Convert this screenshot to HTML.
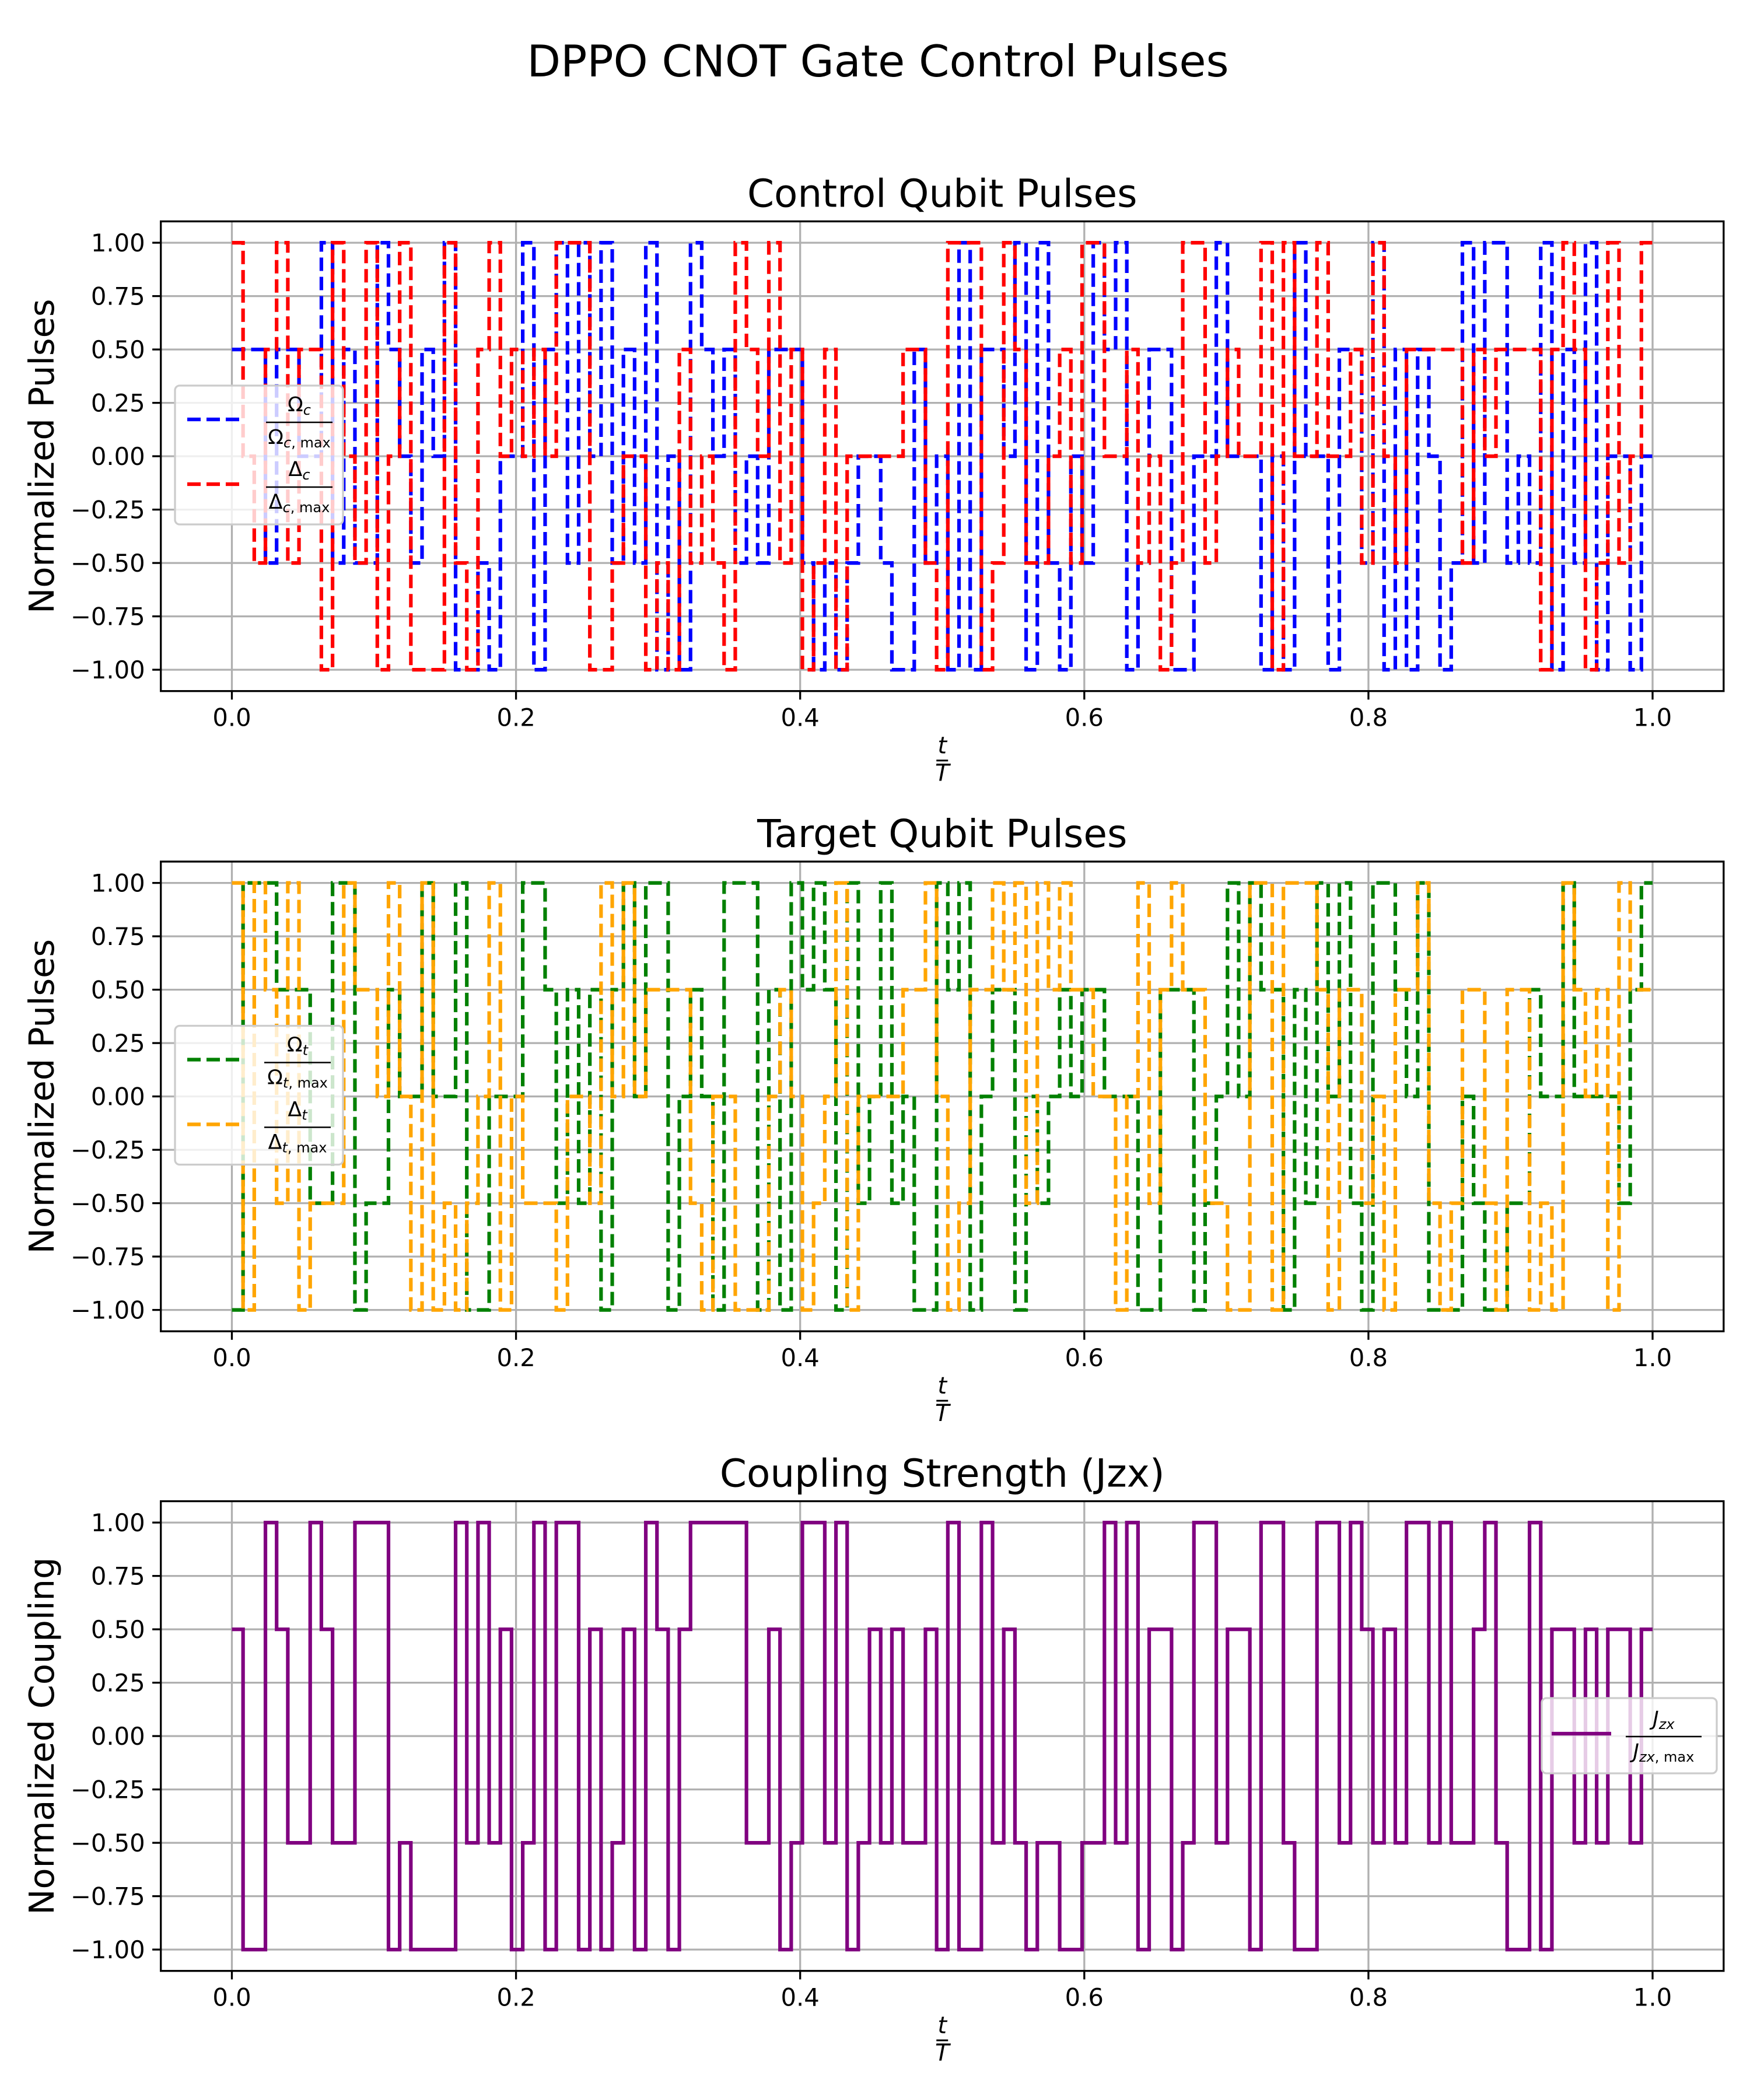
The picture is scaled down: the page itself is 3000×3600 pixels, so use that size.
<!DOCTYPE html>
<html>
<head>
<meta charset="utf-8">
<style>
  html, body { margin: 0; padding: 0; background: #ffffff; }
  svg { display: block; }
  text { font-family: "DejaVu Sans", "Liberation Sans", sans-serif; fill: #000; }
</style>
</head>
<body>
<svg id="fig" xmlns="http://www.w3.org/2000/svg" width="3000" height="3600" viewBox="0 0 3000 3600">
  <rect x="0" y="0" width="3000" height="3600" fill="#ffffff"/>
  <text x="1505" y="131" font-size="75" text-anchor="middle">DPPO CNOT Gate Control Pulses</text>
  <g id="panels"></g>
</svg>
<script>
// ---- data (127 piecewise-constant steps over t in [0,1]) ----
const omegaC = [0.5,0.5,0.5,-0.5,0.5,0.5,0,0,1,-0.5,0.5,-0.5,-0.5,1,0.5,0,-0.5,0.5,0,1,-1,-1,-0.5,-1,0,0,1,-1,0.5,1,-0.5,1,0,1,-0.5,0.5,-0.5,1,-1,0,-1,1,0.5,
0,0.5,-0.5,0,-0.5,0.5,0.5,0.5,-0.5,-1,-0.5,-1,-0.5,0,0,-0.5,-1,-1,0.5,-0.5,0,-1,1,-1,0.5,0.5,0,1,-1,1,-0.5,-1,0,-0.5,1,0.5,1,-1,-0.5,0.5,0.5,-1,-1,
0,0,1,0,0,0,-1,0,-1,1,0,0,-1,0.5,0.5,-0.5,1,-1,0.5,-1,0.5,0,-1,-0.5,1,-0.5,1,1,-0.5,0,-0.5,1,-1,0.5,-0.5,1,-1,0,0,-1,0];
const deltaC = [1,0,-0.5,0.5,1,-0.5,0.5,0.5,-1,1,0,-0.5,1,-1,0,1,-1,-1,-1,1,-0.5,-1,0.5,1,0,0.5,0,0.5,0,1,1,1,-1,-1,-0.5,0,0,-1,-0.5,-1,0.5,-0.5,0,
-0.5,-1,1,0.5,0,1,-0.5,0.5,-1,-0.5,0.5,-1,0,0,0,0,0,0.5,0.5,-0.5,-1,1,1,1,-1,-0.5,1,0.5,-0.5,-0.5,0,0.5,-0.5,1,1,0,0,0.5,-0.5,0,-1,-0.5,1,
1,-0.5,0,0.5,0,0,1,-1,1,0,0,1,0,0,0.5,-0.5,1,0,-0.5,0.5,0.5,0.5,0.5,0.5,-0.5,0.5,0,0.5,0.5,0.5,0.5,-1,0.5,1,0.5,-1,-0.5,1,-0.5,0,1];
const omegaT = [-1,1,1,1,0.5,0.5,0.5,-0.5,-0.5,1,1,-1,-0.5,-0.5,0.5,0,0,1,0,0,1,-1,-1,0,0,0,1,1,0.5,-0.5,0.5,-0.5,0.5,-1,0.5,1,0,1,1,-1,0,0.5,0,
-1,1,1,1,-1,0.5,-1,1,0.5,1,0.5,-1,1,-0.5,0,1,-0.5,0,-1,-1,1,0.5,1,-1,0,0.5,0.5,-1,0,-0.5,0,0.5,0,0.5,0.5,0,0,0,-1,-1,0.5,0.5,
0.5,-1,-0.5,0,1,0,1,0.5,0.5,-1,0.5,-0.5,1,0,1,-0.5,-1,1,1,0.5,0,1,-1,-1,-1,0,-0.5,-1,-1,-0.5,-0.5,0.5,0,0,1,0,0,0,0,-0.5,0.5,1];
const deltaT = [1,-1,1,0.5,-0.5,1,-1,-0.5,-0.5,-0.5,1,0.5,0.5,0,1,0,-1,1,-1,-0.5,-1,-0.5,0,1,-1,0,-0.5,-0.5,-0.5,-1,0,0,-0.5,1,0,1,0,0.5,0.5,0.5,0.5,-0.5,-1,
0,0,-1,-1,-1,0,0.5,0,-1,-0.5,0,1,-1,0,0,0,0,0.5,0.5,1,0,-1,-0.5,0.5,0.5,1,0.5,1,-0.5,1,0.5,1,0.5,0.5,0,0,-1,0,1,-0.5,0.5,1,
0.5,0.5,-0.5,-0.5,-1,-1,1,1,-1,1,1,1,0.5,-1,0.5,0.5,-0.5,0,-1,0.5,0.5,1,-0.5,-1,-0.5,0.5,0.5,-0.5,-1,0.5,0.5,-1,-0.5,-1,1,0.5,0,0.5,-1,1,0.5,0.5];
const jzx = [0.5,-1,-1,1,0.5,-0.5,-0.5,1,0.5,-0.5,-0.5,1,1,1,-1,-0.5,-1,-1,-1,-1,1,-0.5,1,-0.5,0.5,-1,-0.5,1,-1,1,1,-1,0.5,-1,-0.5,0.5,-1,1,0.5,-1,0.5,1,1,1,1,1,
-0.5,-0.5,0.5,-1,-0.5,1,1,-0.5,1,-1,-0.5,0.5,-0.5,0.5,-0.5,-0.5,0.5,-1,1,-1,-1,1,-0.5,0.5,-0.5,-1,-0.5,-0.5,-1,-1,-0.5,-0.5,1,-0.5,1,-1,0.5,0.5,-1,-0.5,
1,1,-0.5,0.5,0.5,-1,1,1,-0.5,-1,-1,1,1,-0.5,1,0.5,-0.5,0.5,-0.5,1,1,-0.5,1,-0.5,-0.5,0.5,1,-0.5,-1,-1,1,-1,0.5,0.5,-0.5,0.5,-0.5,0.5,0.5,-0.5,0.5];
const xTicks = [0.0, 0.2, 0.4, 0.6, 0.8, 1.0];
const xTickLabels = ["0.0","0.2","0.4","0.6","0.8","1.0"];
const yTicks = [-1.0,-0.75,-0.5,-0.25,0.0,0.25,0.5,0.75,1.0];
const yTickLabels = ["\u22121.00","\u22120.75","\u22120.50","\u22120.25","0.00","0.25","0.50","0.75","1.00"];
const panelTitles = ["Control Qubit Pulses","Target Qubit Pulses","Coupling Strength (Jzx)"];
const panelYLabels = ["Normalized Pulses","Normalized Pulses","Normalized Coupling"];

// ---- layout ----
const NS = "http://www.w3.org/2000/svg";
const AX_L = 275.7, AX_R = 2954.8;
const X0 = 397.5, XSPAN = 2435.5;
const TOPS = [379.5, 1477, 2573.5];
const UNIT = 366;
const AX_H = 2.2 * UNIT;
function xs(t) { return X0 + t * XSPAN; }
function ys(p, v) { return TOPS[p] + (1.1 - v) * UNIT; }
function mk(tag, attrs, parent) {
  const e = document.createElementNS(NS, tag);
  for (const k in attrs) e.setAttribute(k, attrs[k]);
  parent.appendChild(e);
  return e;
}
function stepPath(p, vals) {
  const n = vals.length;
  let d = "";
  for (let k = 0; k < n; k++) {
    const x0 = xs(k / n), x1 = xs((k + 1) / n), y = ys(p, vals[k]);
    d += (k === 0 ? "M" : "L") + x0.toFixed(2) + "," + y.toFixed(2) + "L" + x1.toFixed(2) + "," + y.toFixed(2);
  }
  return d;
}
const root = document.getElementById("panels");

function drawPanel(p, seriesList, legend) {
  const g = mk("g", {}, root);
  
  
  const top = TOPS[p], bot = top + AX_H;
  const bg = mk("rect", {x: AX_L, y: top, width: AX_R - AX_L, height: AX_H, fill: "#fff"}, g);
  
  
  xTicks.forEach((t) => {
    const l = mk("line", {x1: xs(t), x2: xs(t), y1: top, y2: bot, stroke: "#b0b0b0", "stroke-width": 3.3}, g);
    
    
  });
  yTicks.forEach((v) => {
    const l = mk("line", {x1: AX_L, x2: AX_R, y1: ys(p, v), y2: ys(p, v), stroke: "#b0b0b0", "stroke-width": 3.3}, g);
    
    
  });
  seriesList.forEach((s) => {
    const a = {d: stepPath(p, s.vals), fill: "none", stroke: s.color, "stroke-width": 6.2, "stroke-linejoin": "miter", "stroke-linecap": "butt"};
    if (s.dash) a["stroke-dasharray"] = "23 10";
    const path = mk("path", a, g);
    
    
  });
  const sp = mk("rect", {x: AX_L, y: top, width: AX_R - AX_L, height: AX_H, fill: "none", stroke: "#000", "stroke-width": 3.3}, g);
  
  
  xTicks.forEach((t, i) => {
    const tk = mk("line", {x1: xs(t), x2: xs(t), y1: bot, y2: bot + 14.6, stroke: "#000", "stroke-width": 3.3}, g);
    
    
    const tx = mk("text", {x: xs(t), y: bot + 60, "font-size": 41.7, "text-anchor": "middle"}, g);
    tx.textContent = xTickLabels[i];
    
    
  });
  yTicks.forEach((v, i) => {
    const tk = mk("line", {x1: AX_L - 14.6, x2: AX_L, y1: ys(p, v), y2: ys(p, v), stroke: "#000", "stroke-width": 3.3}, g);
    
    
    const tx = mk("text", {x: AX_L - 27, y: ys(p, v) + 15, "font-size": 41.7, "text-anchor": "end"}, g);
    tx.textContent = yTickLabels[i];
    
    
  });
  const ti = mk("text", {x: (AX_L + AX_R) / 2, y: top - 25, "font-size": 66, "text-anchor": "middle"}, g);
  ti.textContent = panelTitles[p];
  
  
  const cy = top + AX_H / 2;
  const yl = mk("text", {x: 0, y: 0, "font-size": 59, "text-anchor": "middle", transform: "translate(92," + cy + ") rotate(-90)"}, g);
  yl.textContent = panelYLabels[p];
  
  
  const cx = (AX_L + AX_R) / 2;
  const xl = mk("g", {}, g);
  
  
  const tt = mk("text", {x: cx, y: bot + 107, "font-size": 40, "font-style": "italic", "text-anchor": "middle"}, xl);
  tt.textContent = "t";
  mk("line", {x1: cx - 10, x2: cx + 10, y1: bot + 119, y2: bot + 119, stroke: "#000", "stroke-width": 3}, xl);
  const tT = mk("text", {x: cx, y: bot + 154, "font-size": 40, "font-style": "italic", "text-anchor": "middle"}, xl);
  tT.textContent = "T";
  const lg = mk("g", {}, g);
  
  
  mk("rect", {x: legend.x, y: legend.y, width: legend.w, height: legend.h, rx: 8, fill: "#fff", "fill-opacity": 0.8, stroke: "#cccccc", "stroke-width": 3.3}, lg);
  legend.entries.forEach((en) => {
    const eg = mk("g", {}, lg);
    
    
    const la = {x1: legend.hx0, x2: legend.hx1, y1: en.y, y2: en.y, stroke: en.color, "stroke-width": 6.2};
    if (en.dash) la["stroke-dasharray"] = "23 10";
    mk("line", la, eg);
    const fx = legend.fx;
    const st = en.italicSym ? ' font-style="italic"' : '';
    const num = mk("text", {x: fx, y: en.y - 14, "font-size": 35, "text-anchor": "middle"}, eg);
    num.innerHTML = '<tspan' + st + '>' + en.sym + '</tspan><tspan font-size="24" font-style="italic" dy="6">' + en.sub + '</tspan>';
    mk("line", {x1: fx - legend.bw / 2, x2: fx + legend.bw / 2, y1: en.y + 5, y2: en.y + 5, stroke: "#000", "stroke-width": 2.5}, eg);
    const den = mk("text", {x: fx, y: en.y + 42, "font-size": 35, "text-anchor": "middle"}, eg);
    den.innerHTML = '<tspan' + st + '>' + en.sym + '</tspan><tspan font-size="24" dy="6"><tspan font-style="italic">' + en.sub + '</tspan>, max</tspan>';
  });
}

drawPanel(0, [
  {vals: omegaC, color: "#0000ff", dash: true, name: "omega-c-line"},
  {vals: deltaC, color: "#ff0000", dash: true, name: "delta-c-line"}
], {x: 300, y: 661, w: 288, h: 238, hx0: 321, hx1: 418, fx: 513, bw: 114,
    entries: [{y: 719, color: "#0000ff", dash: true, sym: "\u03A9", sub: "c"},
              {y: 830, color: "#ff0000", dash: true, sym: "\u0394", sub: "c"}]});

drawPanel(1, [
  {vals: omegaT, color: "#008000", dash: true, name: "omega-t-line"},
  {vals: deltaT, color: "#ffa500", dash: true, name: "delta-t-line"}
], {x: 300, y: 1758.5, w: 288, h: 238, hx0: 321, hx1: 418, fx: 510, bw: 114,
    entries: [{y: 1816.5, color: "#008000", dash: true, sym: "\u03A9", sub: "t"},
              {y: 1927.5, color: "#ffa500", dash: true, sym: "\u0394", sub: "t"}]});

drawPanel(2, [
  {vals: jzx, color: "#800080", dash: false, name: "jzx-line"}
], {x: 2643, y: 2911, w: 300, h: 129, hx0: 2660, hx1: 2762, fx: 2852, bw: 130,
    entries: [{y: 2972, color: "#800080", dash: false, sym: "J", sub: "zx", italicSym: true}]});
</script>
</body>
</html>
